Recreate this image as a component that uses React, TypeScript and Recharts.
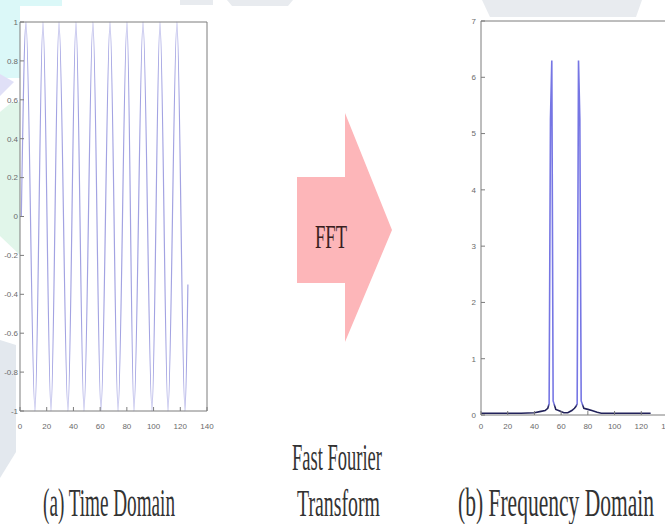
import { LineChart, Line, XAxis, YAxis } from 'recharts';

// time domain samples (peaks / troughs)
const timeX = [1, 4.5, 11.2, 17.2, 23.2, 29.2, 35.9, 41.9, 47.9, 54.6, 60.6, 67.4, 73.4, 80.1, 85.3, 92.1, 98.8, 104.8, 110.8, 117.5, 123.5, 125.7];
const timeY = [0, 1, -1, 1, -1, 1, -1, 1, -1, 1, -1, 1, -1, 1, -1, 1, -1, 1, -1, 1, -1, -0.35];
const timeTicksX = [0, 20, 40, 60, 80, 100, 120, 140];
const timeTicksY = [-1, -0.8, -0.6, -0.4, -0.2, 0, 0.2, 0.4, 0.6, 0.8, 1];

// magnitude spectrum
const freqX = [0, 10, 20, 30, 40, 44, 48, 50, 51, 52, 53, 54, 56, 59, 62, 65, 68, 70, 71, 72, 73, 74, 75, 77, 80, 83, 87, 90, 100, 110, 120, 127];
const freqY = [0.03, 0.03, 0.03, 0.03, 0.04, 0.06, 0.08, 0.12, 0.2, 5.25, 6.3, 0.25, 0.1, 0.07, 0.04, 0.04, 0.08, 0.12, 0.15, 0.2, 6.3, 5.25, 0.25, 0.12, 0.1, 0.08, 0.05, 0.03, 0.03, 0.03, 0.03, 0.03];
const freqTicksX = [0, 20, 40, 60, 80, 100, 120, 140];
const freqTicksY = [0, 1, 2, 3, 4, 5, 6, 7];

const arrowLabel = 'FFT';
const middleLines = ['Fast Fourier', 'Transform'];
const leftCaption = '(a) Time Domain';
const rightCaption = '(b) Frequency Domain';

const axisColor = '#7c7c7c';
const tickFont = { fontSize: 8, fill: '#6a6a6a', fontFamily: 'Liberation Sans' };

export default function App() {
  const timeData = timeX.map((x, i) => ({ x, y: timeY[i] }));
  const freqData = freqX.map((x, i) => ({ x, y: freqY[i] }));

  return (
    <div style={{ position: 'fixed', left: 0, top: 0, width: 665, height: 524, overflow: 'hidden', background: '#fff' }}>
      {/* faint watermark shapes behind the plots */}
      <svg style={{ position: 'absolute', left: 0, top: 0 }} width={665} height={524}>
        <polygon points="0,0 62,0 62,6 20,6 20,78 0,78" fill="#dbf8f8" />
        <polygon points="0,74 14,82 0,96" fill="#e0e0f7" />
        <polygon points="0,112 12,102 20,102 20,255 0,236" fill="#e1f6ea" />
        <polygon points="0,340 16,345 16,452 0,478" fill="#e3e8ee" />
        <polygon points="180,0 213,0 213,5 180,5" fill="#e8ebef" />
        <polygon points="227,0 293,0 288,6 232,6" fill="#e8ebef" />
        <polygon points="482,0 642,0 636,17 490,17" fill="#e8ebef" />
      </svg>

      <div style={{ position: 'absolute', left: 0, top: 0 }}>
        <LineChart width={220} height={440} data={timeData} margin={{ top: 21, right: 12, bottom: 0, left: 0 }}>
          <XAxis dataKey="x" type="number" domain={[0, 140]} ticks={timeTicksX} interval={0} height={29}
            stroke={axisColor} tickSize={-4} tickMargin={16} tick={tickFont} />
          <XAxis xAxisId="top" dataKey="x" orientation="top" type="number" domain={[0, 140]} ticks={timeTicksX} interval={0}
            height={1} stroke={axisColor} tickSize={-4} tick={false} />
          <YAxis type="number" domain={[-1, 1]} ticks={timeTicksY} interval={0} width={20}
            stroke={axisColor} tickSize={-4} tickMargin={6} tick={tickFont} />
          <YAxis yAxisId="right" orientation="right" type="number" domain={[-1, 1]} ticks={timeTicksY} interval={0}
            width={1} stroke={axisColor} tickSize={-4} tick={false} />
          {/* invisible twin so the top/right box axes get a scale */}
          <Line xAxisId="top" yAxisId="right" dataKey="y" stroke="none" dot={false} activeDot={false} isAnimationActive={false} />
          <Line dataKey="y" type="monotone" stroke="#a3a3e2" strokeWidth={1.2} dot={false} isAnimationActive={false} />
        </LineChart>
      </div>

      <div style={{ position: 'absolute', left: 460, top: 0 }}>
        <LineChart width={220} height={440} data={freqData} margin={{ top: 20, right: 11, bottom: 0, left: 0 }}>
          <defs>
            <linearGradient id="fftStroke" x1="0" y1="0" x2="0" y2="1">
              <stop offset="0" stopColor="#7676e4" />
              <stop offset="0.972" stopColor="#7676e4" />
              <stop offset="0.982" stopColor="#22225a" />
              <stop offset="1" stopColor="#22225a" />
            </linearGradient>
          </defs>
          <XAxis dataKey="x" type="number" domain={[0, 140]} ticks={freqTicksX} interval={0} height={25}
            stroke={axisColor} tickSize={-4} tickMargin={12} tick={tickFont} />
          <XAxis xAxisId="top" dataKey="x" orientation="top" type="number" domain={[0, 140]} ticks={freqTicksX} interval={0}
            height={1} stroke={axisColor} tickSize={-4} tick={false} />
          <YAxis type="number" domain={[0, 7]} ticks={freqTicksY} interval={0} width={21}
            stroke={axisColor} tickSize={-4} tickMargin={9} tick={tickFont} />
          <YAxis yAxisId="right" orientation="right" type="number" domain={[0, 7]} ticks={freqTicksY} interval={0}
            width={1} stroke={axisColor} tickSize={-4} tick={false} />
          <Line xAxisId="top" yAxisId="right" dataKey="y" stroke="none" dot={false} activeDot={false} isAnimationActive={false} />
          <Line dataKey="y" type="linear" stroke="url(#fftStroke)" strokeWidth={1.6} dot={false} isAnimationActive={false} />
        </LineChart>
      </div>

      <svg style={{ position: 'absolute', left: 0, top: 0, pointerEvents: 'none' }} width={665} height={524}>
        <polygon points="297,177 345,177 345,113 392,230 345,342 345,283 297,283" fill="#fdb6b9" />
        <text x={315} y={248} fontSize={34} fontFamily="Liberation Serif" fill="#3a1f1f"
          textLength={32} lengthAdjust="spacingAndGlyphs">{arrowLabel}</text>
        <text x={292} y={470} fontSize={37} fontFamily="Liberation Serif" fill="#333"
          textLength={90} lengthAdjust="spacingAndGlyphs">{middleLines[0]}</text>
        <text x={297} y={516} fontSize={37} fontFamily="Liberation Serif" fill="#333"
          textLength={83} lengthAdjust="spacingAndGlyphs">{middleLines[1]}</text>
        <text x={43} y={516} fontSize={40} fontFamily="Liberation Serif" fill="#333"
          textLength={132} lengthAdjust="spacingAndGlyphs">{leftCaption}</text>
        <text x={458} y={516} fontSize={40} fontFamily="Liberation Serif" fill="#333"
          textLength={196} lengthAdjust="spacingAndGlyphs">{rightCaption}</text>
      </svg>
    </div>
  );
}
